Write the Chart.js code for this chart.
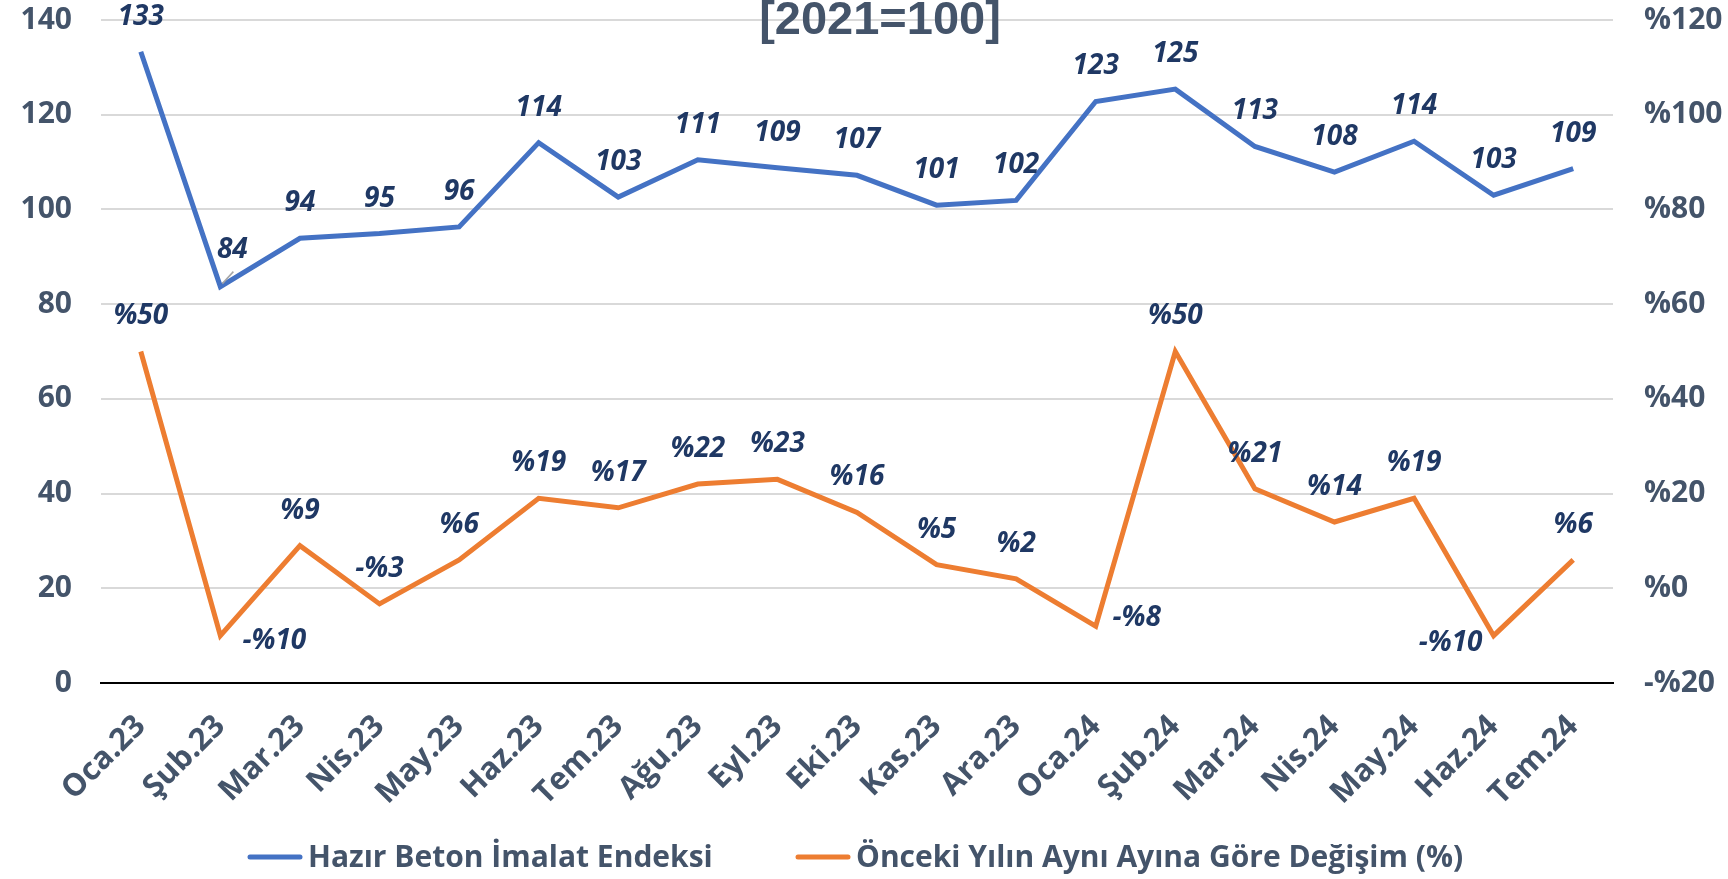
<!DOCTYPE html>
<html>
<head>
<meta charset="utf-8">
<script src="https://cdn.jsdelivr.net/npm/chart.js@4.4.1/dist/chart.umd.min.js"></script>
<style>
    html, body { margin: 0; padding: 0; background: #ffffff; }
    #wrap { width: 1728px; height: 879px; }
</style>
</head>
<body>
<div id="wrap"><canvas id="betonChart"></canvas></div>
<script>
// month labels (Turkish)
const months = ["Oca.23", "Şub.23", "Mar.23", "Nis.23", "May.23", "Haz.23", "Tem.23", "Ağu.23", "Eyl.23", "Eki.23",
    "Kas.23", "Ara.23", "Oca.24", "Şub.24", "Mar.24", "Nis.24", "May.24", "Haz.24", "Tem.24"];

// Hazır Beton İmalat Endeksi [2021=100]
const indexValues = [133.3, 83.7, 93.9, 94.9, 96.3, 114.1, 102.6, 110.5, 108.8, 107.2,
    100.9, 101.9, 122.8, 125.4, 113.3, 107.9, 114.4, 103.0, 108.6];

// Önceki yılın aynı ayına göre değişim (%)
const changeValues = [50, -10, 9, -3.3, 6, 19, 17, 22, 23, 16,
    5, 2, -8, 50, 21, 14, 19, -10, 6];

const seriesNames = ["Hazır Beton İmalat Endeksi", "Önceki Yılın Aynı Ayına Göre Değişim (%)"];
const titleText = "[2021=100]";

const AXIS_COLOR = "#44546A";
const LABEL_COLOR = "#1F3864";
const FONT = "'Open Sans', 'DejaVu Sans', sans-serif";

const pct = v => (v < 0 ? "-%" : "%") + Math.abs(Math.round(v));

// labels that sit beside their point instead of above it
const labelShift = {
    "0-1": [12, -37],
    "1-1": [54, 5],
    "1-12": [41, -8],
    "1-17": [-43, 7]
};

const valueLabels = {
    id: "valueLabels",
    afterDatasetsDraw(chart) {
        const ctx = chart.ctx;
        ctx.save();
        // small leader line of the "84" label
        const p84 = chart.getDatasetMeta(0).data[1];
        ctx.strokeStyle = "#A6A6A6";
        ctx.lineWidth = 1.5;
        ctx.beginPath();
        ctx.moveTo(p84.x + 2, p84.y - 3);
        ctx.lineTo(p84.x + 13, p84.y - 15);
        ctx.stroke();

        ctx.font = "italic bold 28px " + FONT;
        ctx.fillStyle = LABEL_COLOR;
        ctx.textAlign = "center";
        ctx.textBaseline = "middle";
        chart.data.datasets.forEach((ds, di) => {
            const meta = chart.getDatasetMeta(di);
            meta.data.forEach((pt, i) => {
                const shift = labelShift[di + "-" + i] || [0, -35];
                const v = ds.data[i];
                const text = di === 0 ? String(Math.round(v)) : pct(v);
                ctx.fillText(text, pt.x + shift[0], pt.y + shift[1]);
            });
        });
        ctx.restore();
    }
};

// title and legend drawn on top
const extras = {
    id: "extras",
    afterDraw(chart) {
        const ctx = chart.ctx;
        ctx.save();
        ctx.font = "bold 47px 'Liberation Sans', Arial, sans-serif";
        ctx.fillStyle = AXIS_COLOR;
        ctx.textAlign = "center";
        ctx.textBaseline = "alphabetic";
        ctx.fillText(titleText, 880, 34);

        ctx.font = "bold 30px " + FONT;
        ctx.textAlign = "left";
        ctx.textBaseline = "middle";
        const starts = [248, 796], lineLen = 54, y = 857;
        chart.data.datasets.forEach((ds, i) => {
            const x = starts[i];
            ctx.strokeStyle = ds.borderColor;
            ctx.lineWidth = 5;
            ctx.lineCap = "round";
            ctx.beginPath();
            ctx.moveTo(x + 2, y);
            ctx.lineTo(x + lineLen - 2, y);
            ctx.stroke();
            ctx.fillStyle = AXIS_COLOR;
            ctx.fillText(ds.label, x + lineLen + 6, y + 1);
        });
        ctx.restore();
    }
};

const ctx = document.getElementById("betonChart");

new Chart(ctx, {
    type: "line",
    data: {
        labels: months,
        datasets: [{
            label: seriesNames[0],
            data: indexValues,
            yAxisID: "y",
            borderColor: "#4472C4",
            backgroundColor: "#4472C4",
            borderWidth: 5,
            pointRadius: 0,
            tension: 0
        }, {
            label: seriesNames[1],
            data: changeValues,
            yAxisID: "y1",
            borderColor: "#ED7D31",
            backgroundColor: "#ED7D31",
            borderWidth: 5,
            pointRadius: 0,
            tension: 0
        }]
    },
    options: {
        responsive: true,
        maintainAspectRatio: false,
        animation: false,
        layout: {
            padding: { top: 20, left: 0, right: 0, bottom: 0 }
        },
        plugins: {
            title: { display: false },
            tooltip: { enabled: false },
            legend: { display: false }
        },
        scales: {
            x: {
                offset: true,
                grid: { display: false, drawTicks: false },
                border: { display: true, color: "#000000", width: 2 },
                ticks: {
                    color: AXIS_COLOR,
                    font: { family: FONT, size: 31, weight: "bold" },
                    minRotation: 45,
                    maxRotation: 45,
                    padding: 25,
                    autoSkip: false
                },
                afterFit(scale) { scale.height = 196; }
            },
            y: {
                position: "left",
                min: 0,
                max: 140,
                grid: {
                    color: c => (c.tick.value === 0 ? "rgba(0,0,0,0)" : "#D9D9D9"),
                    lineWidth: 2,
                    drawTicks: true,
                    tickLength: 29,
                    tickColor: "rgba(0,0,0,0)"
                },
                border: { display: false },
                ticks: {
                    stepSize: 20,
                    color: AXIS_COLOR,
                    font: { family: FONT, size: 30, weight: "bold" },
                    padding: 0
                },
                afterFit(scale) { scale.width = 101; }
            },
            y1: {
                position: "right",
                min: -20,
                max: 120,
                grid: {
                    drawOnChartArea: false,
                    drawTicks: true,
                    tickLength: 31,
                    tickColor: "rgba(0,0,0,0)"
                },
                border: { display: false },
                ticks: {
                    stepSize: 20,
                    color: AXIS_COLOR,
                    font: { family: FONT, size: 30, weight: "bold" },
                    padding: 0,
                    callback: v => pct(v)
                },
                afterFit(scale) { scale.width = 115; }
            }
        }
    },
    plugins: [valueLabels, extras]
});
</script>
</body>
</html>
